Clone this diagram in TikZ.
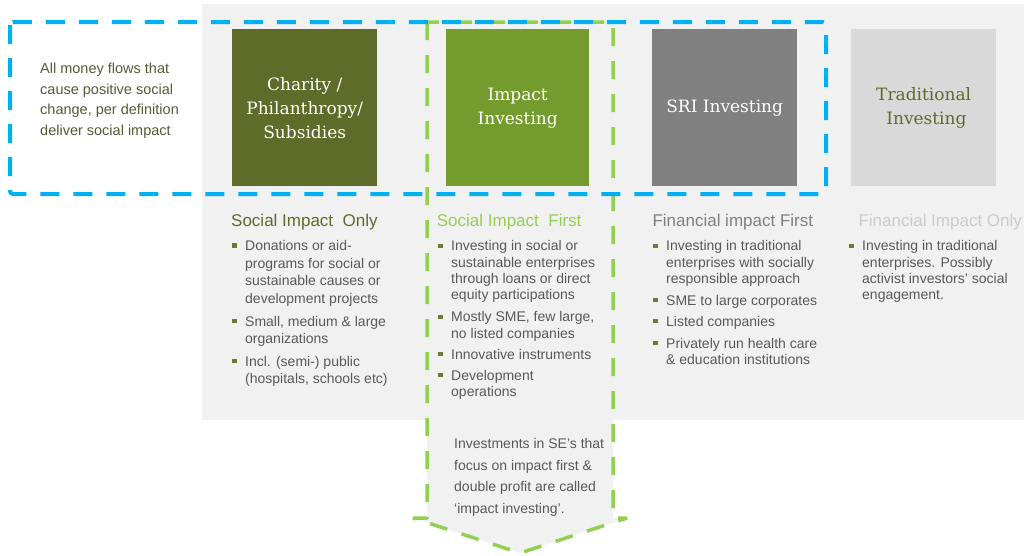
\documentclass[tikz,border=0pt]{standalone}
\usepackage{fontspec}
\setmainfont{Liberation Sans}
\newfontfamily\slab{DejaVu Serif}
\definecolor{bgc}{HTML}{F1F1F1}
\definecolor{olivec}{HTML}{5F6B29}
\definecolor{impc}{HTML}{739B2D}
\definecolor{sric}{HTML}{808080}
\definecolor{tradc}{HTML}{D9D9D9}
\definecolor{bluec}{HTML}{00B0F0}
\definecolor{greenc}{HTML}{92D050}
\definecolor{bodyc}{HTML}{595959}
\definecolor{leftc}{HTML}{525C35}
\definecolor{bulc}{HTML}{6B7A35}
\newcommand\mybul{\textcolor{bulc}{\rule[2.6pt]{4.5pt}{4.5pt}}}
\newcommand\bitem[1]{\begin{tabular}[t]{@{}l@{\hspace{8.5pt}}l@{}}\mybul & \begin{tabular}[t]{@{}l@{}}#1\end{tabular}\end{tabular}}
\tikzset{
  box/.style={minimum width=145pt, minimum height=157pt, inner sep=0pt, align=center, anchor=north west, font=\slab\fontsize{17}{24}\selectfont, text=white},
  head/.style={anchor=base west, inner sep=0pt, font=\fontsize{17}{20}\selectfont},
  itm/.style={anchor=base west, inner sep=0pt, text=bodyc},
  itmA/.style={itm, font=\fontsize{14}{17.7}\selectfont},
  itmB/.style={itm, font=\fontsize{14}{16.3}\selectfont},
  para/.style={anchor=base west, inner sep=0pt, align=left},
  bluedash/.style={draw=bluec, line width=4pt, dash pattern=on 19pt off 14pt, rounded corners=3pt},
  greendash/.style={draw=greenc, line width=3.5pt, dash pattern=on 18pt off 15pt, line join=bevel},
}
\begin{document}
\begin{tikzpicture}[x=1pt,y=-1pt]
\useasboundingbox (0,0) rectangle (1024,555);
% background
\fill[bgc] (202,4) rectangle (1024,420);
\fill[bgc] (427,22) -- (427,518) -- (413,518) -- (520,553) -- (627,518) -- (613,518) -- (613,22) -- cycle;
% boxes
\node[box, fill=olivec] (charity) at (232,29) {Charity /\\Philanthropy/\\Subsidies};
\node[box, fill=impc, minimum width=143pt] (impact) at (446,29) {Impact\\Investing};
\node[box, fill=sric] (sri) at (652,29) {SRI Investing};
\node[box, fill=tradc, text=olivec] (trad) at (851,29) {Traditional\\\ Investing};
% left text
\node[para, text=leftc, font=\fontsize{14.5}{20.7}\selectfont] (lefttext) at (40,73.3)
  {\begin{tabular}[t]{@{}l@{}}All money flows that\\cause positive social\\change, per definition\\deliver social impact\end{tabular}};
% headings
\node[head, text=olivec] (h1) at (231,226) {Social Impact \ Only};
\node[head, text=greenc] (h2) at (436.7,226) {Social Impact \ First};
\node[head, text=sric] (h3) at (652.3,226) {Financial impact First};
\node[head, text=tradc!85!gray] (h4) at (858.3,226) {Financial Impact Only};
% column 1
\node[itmA] (c1a) at (232,250.5) {\bitem{Donations or aid-\\programs for social or\\sustainable causes or\\development projects}};
\node[itmA] (c1b) at (232,326) {\bitem{Small, medium \& large\\organizations}};
\node[itmA] (c1c) at (232,366) {\bitem{Incl. (semi-) public\\(hospitals, schools etc)}};
% column 2
\node[itmB] (c2a) at (438,250.7) {\bitem{Investing in social or\\sustainable enterprises\\through loans or direct\\equity participations}};
\node[itmB] (c2b) at (438,321.7) {\bitem{Mostly SME, few large,\\no listed companies}};
\node[itmB] (c2c) at (438,359) {\bitem{Innovative instruments}};
\node[itmB] (c2d) at (438,380) {\bitem{Development\\operations}};
% column 3
\node[itmB] (c3a) at (653,250.7) {\bitem{Investing in traditional\\enterprises with socially\\responsible approach}};
\node[itmB] (c3b) at (653,305) {\bitem{SME to large corporates}};
\node[itmB] (c3c) at (653,326) {\bitem{Listed companies}};
\node[itmB] (c3d) at (653,348) {\bitem{Privately run health care\\\& education institutions}};
% column 4
\node[itmB] (c4a) at (849,250.7) {\bitem{Investing in traditional\\enterprises. Possibly\\activist investors' social\\engagement.}};
% arrow text
\node[para, text=bodyc, font=\fontsize{14}{21.7}\selectfont] (arrowtext) at (454,448.3)
  {\begin{tabular}[t]{@{}l@{}}Investments in SE's that\\focus on impact first \&\\double profit are called\\`impact investing'.\end{tabular}};
% green dashed arrow
\draw[greendash] (427,22) -- (427,518) -- (413,518) -- (520,553) -- (627,518) -- (613,518) -- (613,22) -- cycle;
% blue dashed frame
\draw[bluedash] (10,22) rectangle (826,194);
\end{tikzpicture}
\end{document}
